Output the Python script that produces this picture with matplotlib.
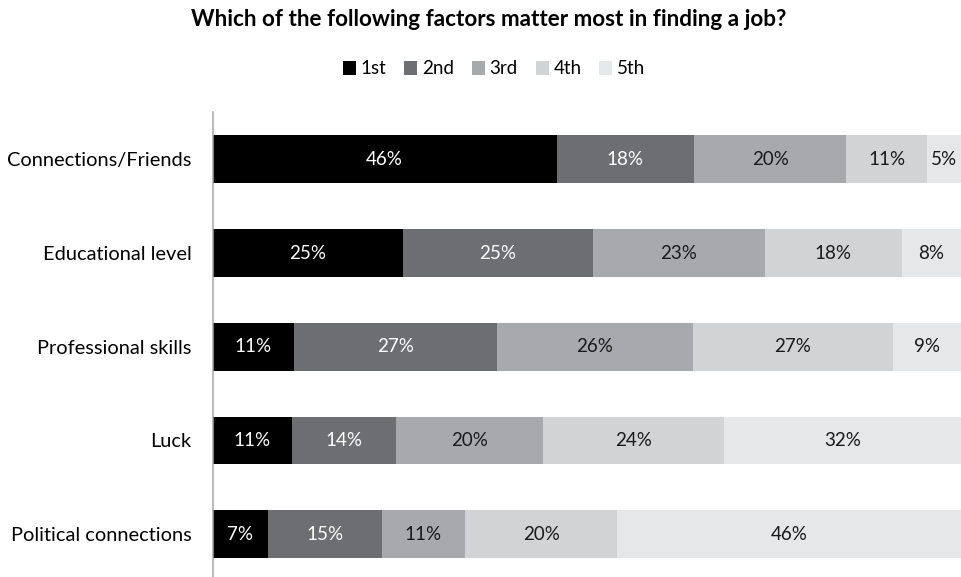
import matplotlib.pyplot as plt
from matplotlib.patches import Patch
import numpy as np

plt.rcParams['font.family'] = ['Lato', 'DejaVu Sans']

categories = ['Connections/Friends', 'Educational level', 'Professional skills',
              'Luck', 'Political connections']
ranks = ['1st', '2nd', '3rd', '4th', '5th']

# share of answers (%) per rank, one list per rank, in category order
first = [46.0, 25.4, 10.9, 10.6, 7.4]
second = [18.3, 25.4, 27.1, 13.9, 15.2]
third = [20.4, 23.0, 26.2, 19.6, 11.1]
fourth = [10.7, 18.3, 26.7, 24.3, 20.4]
fifth = [4.6, 7.9, 9.1, 31.6, 45.9]

colors = ['#000000', '#6d6e71', '#a7a9ac', '#d1d3d4', '#e6e7e8']
text_colors = ['white', 'white', '#1a1a1a', '#1a1a1a', '#1a1a1a']

fig = plt.figure(figsize=(9.61, 5.77), dpi=100)
ax = fig.add_axes([212.5 / 961, -4 / 577, 1 - 212.5 / 961, (581 - 112.5) / 577])

y = np.arange(len(categories))
left = np.zeros(len(categories))
for vals, col, tcol, name in zip([first, second, third, fourth, fifth],
                                 colors, text_colors, ranks):
    vals = np.array(vals)
    bars = ax.barh(y, vals, left=left, height=0.51, color=col, label=name)
    for b, v in zip(bars, vals):
        ax.text(b.get_x() + b.get_width() / 2, b.get_y() + b.get_height() / 2,
                f'{v:.0f}%', ha='center', va='center', color=tcol, fontsize=13.5)
    left += vals

ax.set_xlim(0, 100)
ax.set_ylim(len(categories) - 0.5, -0.5)
ax.set_yticks(y)
ax.set_yticklabels(categories, fontsize=14.4)
ax.set_xticks([])
ax.tick_params(axis='y', length=0, pad=15)
for s in ['top', 'right', 'bottom']:
    ax.spines[s].set_visible(False)
ax.spines['left'].set_color('#a6a6a6')
ax.spines['left'].set_linewidth(1.1)

fig.text(489 / 961, 1 - 26 / 577, 'Which of the following factors matter most in finding a job?',
         ha='center', va='baseline', fontsize=16.2, fontweight='bold')

handles = [Patch(facecolor=c, edgecolor='none') for c in colors]
fig.legend(handles, ranks, loc='center', bbox_to_anchor=(494 / 961, 1 - 69 / 577), ncol=5,
           frameon=False, fontsize=13.5, handlelength=0.7, handleheight=0.7,
           handletextpad=0.25, columnspacing=0.95)

fig.savefig('out.png', dpi=100)
